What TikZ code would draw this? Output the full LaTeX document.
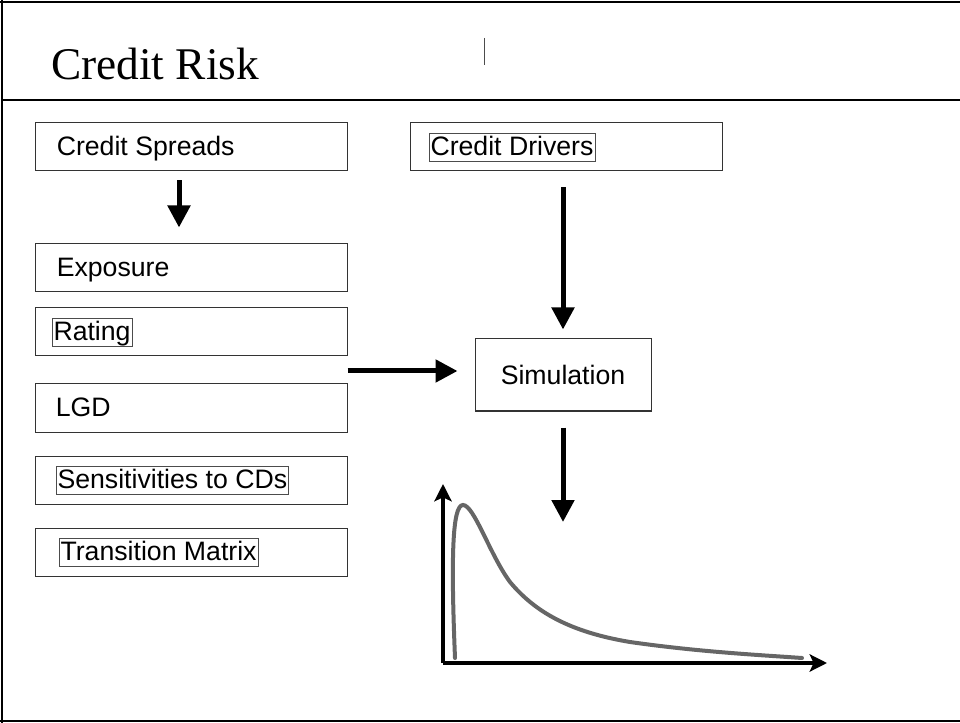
\documentclass[tikz,border=0pt]{standalone}
\usepackage{fontspec}
\setmainfont{Liberation Sans}
\newfontfamily\titlefont{Liberation Serif}
\usetikzlibrary{arrows.meta, positioning}

\begin{document}
\begin{tikzpicture}[
        x=0.75pt, y=-0.75pt,
        box/.style={draw=black!80, line width=0.75pt, minimum width=234pt, minimum height=36pt, inner sep=0pt},
        txt/.style={font=\fontsize{20}{22}\selectfont, inner sep=0pt, text height=15.5pt, text depth=3pt, anchor=west},
        framed/.style={txt, draw=black!70, line width=0.6pt, inner sep=1.2pt},
        bigarrow/.style={line width=3.75pt, -{Triangle[length=16.5pt, width=16.5pt]}},
        axis/.style={line width=2.6pt, -{Stealth[length=13pt, width=13pt, inset=3pt]}},
        curve/.style={line width=3pt, black!60, line cap=round}
    ]
        \useasboundingbox (0,0) rectangle (960,723);

        % Rahmen und Titel
        \draw[line width=2pt] (0,2) -- (960,2);
        \draw[line width=2pt] (2,0) -- (2,723);
        \draw[line width=2pt] (0,721) -- (960,721);
        \draw[line width=0.9pt] (2,100) -- (960,100);
        \draw[line width=0.75pt, black!70] (484,38) -- (484,65);
        \node[anchor=base west, inner sep=0pt, font=\titlefont\fontsize{34}{38}\selectfont] (title) at (51,80) {Credit Risk};

        % Linke Spalte
        \node[box] (cs) at (191,147) {};
        \node[box, below=54pt of cs] (exposure) {};
        \node[box, below=11.25pt of exposure] (rating) {};
        \node[box, below=20.25pt of rating] (lgd) {};
        \node[box, below=17.25pt of lgd] (sens) {};
        \node[box, below=17.25pt of sens] (trans) {};

        \node[txt] (csTxt) at ([xshift=16.5pt]cs.west) {Credit Spreads};
        \node[txt] (exposureTxt) at ([xshift=16.5pt]exposure.west) {Exposure};
        \node[framed] (ratingTxt) at ([xshift=12.75pt]rating.west) {Rating};
        \node[txt] (lgdTxt) at ([xshift=15.75pt]lgd.west) {LGD};
        \node[framed] (sensTxt) at ([xshift=15.75pt]sens.west) {Sensitivities to CDs};
        \node[framed] (transTxt) at ([xshift=18pt]trans.west) {Transition Matrix};

        % Rechte Spalte
        \node[box] (drivers) at (566,147) {};
        \node[framed] (driversTxt) at ([xshift=14.25pt]drivers.west) {Credit Drivers};
        \node[box, minimum width=132pt, minimum height=54pt, font=\fontsize{20}{22}\selectfont, text height=14.5pt, text depth=0pt] (sim) at (563,375) {Simulation};

        % Pfeile
        \draw[bigarrow, shorten <=6.75pt, shorten >=12pt] ([xshift=-9pt]cs.south) -- ([xshift=-9pt]exposure.north);
        \draw[bigarrow, shorten <=12pt, shorten >=6.75pt] (drivers.south -| sim.north) -- (sim.north);
        \draw[bigarrow, shorten >=12.75pt] ([yshift=3pt]rating.east |- sim.west) -- ([yshift=3pt]sim.west);
        \coordinate (distTop) at (563,522);
        \draw[bigarrow, shorten <=12pt] (sim.south) -- (distTop);

        % Verteilung
        \coordinate (origin) at (443,663);
        \coordinate (yTip) at (443,484);
        \coordinate (xTip) at (827,663);
        \draw[axis] (origin) -- (yTip);
        \draw[axis] (origin) -- (xTip);
        \draw[curve] (455,658) .. controls (451,560) and (452,505) .. (463,505)
            .. controls (474,505) and (490,555) .. (510,582)
            .. controls (535,612) and (570,632) .. (630,642)
            .. controls (700,652) and (760,655) .. (802,658);
    \end{tikzpicture}
\end{document}
